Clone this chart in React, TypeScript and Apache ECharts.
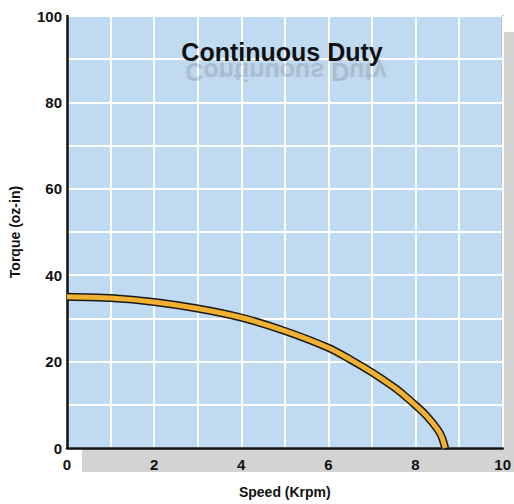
import React, { useEffect, useRef } from "react";
import * as echarts from "echarts";

const speedKrpm = [0, 1, 2, 3, 4, 5, 6, 6.5, 7, 7.5, 7.75, 8, 8.25, 8.5, 8.6, 8.68];
const torqueOzIn = [35.0, 34.7, 33.8, 32.3, 30.2, 27.1, 23.2, 20.5, 17.5, 14.1, 12.1, 9.9, 7.5, 4.4, 2.6, 0];

const xTicks = [0, 2, 4, 6, 8, 10];
const yTicks = [0, 20, 40, 60, 80, 100];

const titleText = "Continuous Duty";
const xName = "Speed (Krpm)";
const yName = "Torque (oz-in)";

const FONT = "'Liberation Sans', Arial, Helvetica, sans-serif";

export default function App() {
  const ref = useRef<HTMLDivElement>(null);
  useEffect(() => {
    if (!ref.current) return;
    const chart = echarts.init(ref.current, null, { renderer: "svg" });
    const pts = speedKrpm.map((s, i) => [s, torqueOzIn[i]]);
    const gridL = 65, gridT = 16, gridW = 440, gridH = 440;
    chart.setOption({
      animation: false,
      backgroundColor: "#ffffff",
      grid: {
        left: gridL,
        top: gridT,
        width: gridW,
        height: gridH,
        show: true,
        backgroundColor: "#c0daf1",
        borderColor: "#333333",
        borderWidth: 1.5,
      },
      graphic: [
        {
          type: "rect",
          z: -10,
          shape: { x: gridL + 17, y: gridT + 16, width: gridW, height: gridH },
          style: { fill: "#d3d3d3" },
          silent: true,
        },
        {
          type: "text",
          z: 5,
          x: 282,
          y: 52,
          style: {
            text: titleText,
            fill: "#111111",
            font: `bold 25px ${FONT}`,
            align: "center",
            verticalAlign: "middle",
          },
        },
        {
          type: "text",
          z: 4,
          x: 286,
          y: 63,
          scaleY: -1,
          style: {
            x: 0,
            y: -9,
            text: titleText,
            fill: "rgba(110,110,110,0.22)",
            font: `bold 25px ${FONT}`,
            align: "center",
            verticalAlign: "middle",
            textShadowColor: "rgba(110,110,110,0.5)",
            textShadowBlur: 6,
          },
        },
      ],
      xAxis: {
        type: "value",
        min: 0,
        max: 10,
        interval: 1,
        name: xName,
        nameLocation: "middle",
        nameGap: 37,
        nameTextStyle: { fontFamily: FONT, fontWeight: "bold", fontSize: 14, color: "#111" },
        axisLine: { show: true, onZero: false, lineStyle: { color: "#111", width: 2.5 } },
        axisTick: { show: false },
        splitLine: { show: true, lineStyle: { color: "#ffffff", width: 2 } },
        axisLabel: {
          margin: 9,
          fontFamily: FONT,
          fontWeight: "bold",
          fontSize: 15,
          color: "#111",
          formatter: (v: number) => (xTicks.includes(v) ? String(v) : ""),
        },
      },
      yAxis: {
        type: "value",
        min: 0,
        max: 100,
        interval: 10,
        name: yName,
        nameLocation: "middle",
        nameGap: 45,
        nameTextStyle: { fontFamily: FONT, fontWeight: "bold", fontSize: 14, color: "#111" },
        axisLine: { show: true, onZero: false, lineStyle: { color: "#111", width: 2.5 } },
        axisTick: { show: false },
        splitLine: { show: true, lineStyle: { color: "#ffffff", width: 2 } },
        axisLabel: {
          margin: 5,
          fontFamily: FONT,
          fontWeight: "bold",
          fontSize: 15,
          color: "#111",
          formatter: (v: number) => (yTicks.includes(v) ? String(v) : ""),
        },
      },
      series: [
        {
          type: "line",
          data: pts,
          smooth: 0.3,
          showSymbol: false,
          symbol: "none",
          lineStyle: { color: "#1a1a1a", width: 8, cap: "butt" },
          z: 3,
          silent: true,
        },
        {
          type: "line",
          data: pts,
          smooth: 0.3,
          showSymbol: false,
          symbol: "none",
          lineStyle: { color: "#f0b030", width: 5, cap: "butt" },
          z: 4,
          silent: true,
        },
      ],
    });
    return () => chart.dispose();
  }, []);
  return (
    <div
      ref={ref}
      style={{ position: "absolute", left: 0, top: 0, width: 514, height: 504 }}
    />
  );
}
